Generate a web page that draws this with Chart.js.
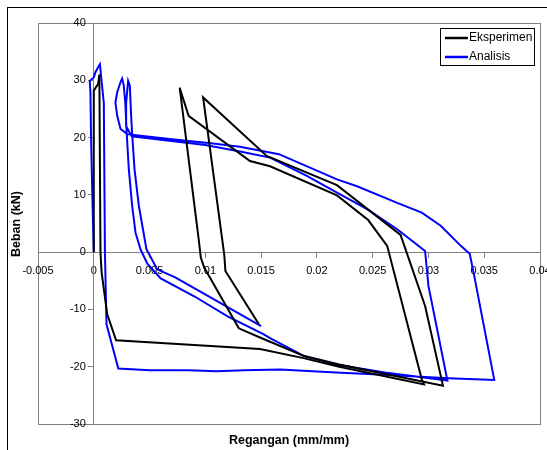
<!DOCTYPE html>
<html>
<head>
<meta charset="utf-8">
<script src="https://cdn.jsdelivr.net/npm/chart.js@4.4.0/dist/chart.umd.min.js"></script>
<style>
  html, body { margin: 0; padding: 0; background: #fff; }
  #wrap { width: 547px; height: 450px; }
</style>
</head>
<body>
<div id="wrap"><canvas id="chart" width="547" height="450"></canvas></div>
<script>
// Tick values / labels
const xTicks = [-0.005, 0, 0.005, 0.01, 0.015, 0.02, 0.025, 0.03, 0.035, 0.04];
const xTickLabels = ['-0.005', '0', '0.005', '0.01', '0.015', '0.02', '0.025', '0.03', '0.035', '0.04'];
const yTicks = [-30, -20, -10, 0, 10, 20, 30, 40];

// Eksperimen (black)
const eksStrain = [0, 0, 0.0004, 0.0005, 0.0006, 0.0007, 0.0012, 0.0020, 0.0149, 0.0188, 0.0220, 0.0296,
  0.0294, 0.0263, 0.0246, 0.0218, 0.0158, 0.0140, 0.0085, 0.0077,
  0.0094, 0.0096, 0.0099, 0.0130, 0.0149, 0.0188, 0.0220, 0.0313,
  0.0297, 0.0275, 0.0218, 0.0155, 0.0098,
  0.0117, 0.0118, 0.0148];
const eksLoad = [0, 28.2, 29.4, 31.0, 0, -3.5, -10.8, -15.4, -16.9, -18.5, -20.0, -23.1,
  -22.2, 1.1, 5.6, 9.9, 15.0, 15.9, 23.8, 28.7,
  2.3, -1.0, -2.7, -13.3, -14.9, -18.1, -19.6, -23.3,
  -9.4, 3.0, 11.7, 16.8, 27.0,
  -0.5, -3.3, -12.6];

// Analisis (blue)
const anaStrain = [0, -0.00015, -0.00024, -0.0003, -0.00036, 0, 0.00015, 0.00045, 0.00055,
  0.0009, 0.0010, 0.00114, 0.0022, 0.0050, 0.0085, 0.0110, 0.0135, 0.0167, 0.0217, 0.0260, 0.0318, 0.0359,
  0.0341, 0.0337, 0.0329, 0.0311, 0.0294, 0.0272, 0.0236, 0.0218, 0.0166, 0.0131, 0.0105, 0.0070, 0.0042, 0.0030,
  0.0024, 0.0021, 0.00194, 0.0021, 0.0024, 0.00254,
  0.00269, 0.00284, 0.00293, 0.00314, 0.00344, 0.00374, 0.00419, 0.0048, 0.0060, 0.0090, 0.0120, 0.0152, 0.0158,
  0.0189, 0.0217, 0.0261, 0.0317,
  0.0300, 0.0297, 0.0272, 0.0245, 0.0218, 0.0191, 0.0158, 0.0130, 0.0100, 0.0060, 0.0034,
  0.0029, 0.0029, 0.00308,
  0.00323, 0.00335, 0.00344, 0.00365, 0.00404, 0.00472, 0.00568, 0.0073, 0.0090, 0.0120, 0.0150];
const anaLoad = [0, 11.6, 19.7, 27.9, 29.9, 30.5, 31.4, 32.5, 32.8,
  26, 0, -12.6, -20.3, -20.6, -20.6, -20.8, -20.6, -20.5, -21.0, -21.4, -22.0, -22.3,
  -4.1, -0.3, 1.1, 4.6, 6.9, 8.6, 11.5, 12.7, 17.1, 18.4, 19.0, 19.7, 20.3, 20.6,
  21.5, 23.8, 26.1, 27.9, 29.7, 30.3,
  29.1, 25.6, 21.5, 14.5, 8.1, 3.4, 0.5, -2.0, -4.6, -7.7, -11.2, -14.3, -15.0,
  -18.2, -19.6, -21.0, -22.4,
  -5.9, 0.2, 4.0, 7.5, 10.4, 13.3, 16.5, 17.6, 18.7, 19.6, 20.2,
  22.0, 26.0, 29.9,
  29.1, 23.8, 20.6, 14.5, 8.1, 0.5, -3.0, -4.4, -6.3, -9.6, -12.9];

const toPoints = (xs, ys) => xs.map((x, i) => ({ x: x, y: ys[i] }));

const FONT = '"Liberation Sans", Arial, sans-serif';

// frame, axis titles and legend box like the Excel original
const decor = {
  id: 'decor',
  beforeDraw(chart) {
    const { ctx, chartArea: a } = chart;
    ctx.save();
    ctx.fillStyle = '#fff';
    ctx.fillRect(0, 0, chart.width, chart.height);
    ctx.strokeStyle = '#000';
    ctx.lineWidth = 1;
    ctx.strokeRect(7.5, 7.5, chart.width + 10, chart.height + 10);
    ctx.strokeStyle = '#808080';
    ctx.strokeRect(Math.round(a.left) + 0.5, Math.round(a.top) + 0.5, Math.round(a.width), Math.round(a.height));
    ctx.restore();
  },
  afterDraw(chart) {
    const { ctx, chartArea: a } = chart;
    ctx.save();
    ctx.fillStyle = '#000';
    ctx.font = 'bold 12.5px ' + FONT;
    ctx.textAlign = 'center';
    ctx.textBaseline = 'middle';
    ctx.fillText('Regangan (mm/mm)', (a.left + a.right) / 2, 441);
    ctx.translate(17, 224);
    ctx.rotate(-Math.PI / 2);
    ctx.fillText('Beban (kN)', 0, 0);
    ctx.restore();

    // legend
    ctx.save();
    const lx = 440.5, ly = 28.5, lw = 94, lh = 37;
    ctx.fillStyle = '#fff';
    ctx.fillRect(lx, ly, lw, lh);
    ctx.strokeStyle = '#000';
    ctx.lineWidth = 1;
    ctx.strokeRect(lx, ly, lw, lh);
    ctx.font = '12px ' + FONT;
    ctx.textAlign = 'left';
    ctx.textBaseline = 'middle';
    chart.data.datasets.forEach((ds, i) => {
      const y = 38 + i * 19;
      ctx.strokeStyle = ds.borderColor;
      ctx.lineWidth = 2.5;
      ctx.beginPath();
      ctx.moveTo(445, y);
      ctx.lineTo(468, y);
      ctx.stroke();
      ctx.fillStyle = '#000';
      ctx.fillText(ds.label, 469, y);
    });
    ctx.restore();
  }
};

const noPad = s => { s.paddingLeft = 0; s.paddingRight = 0; s.paddingTop = 0; s.paddingBottom = 0; };

// y axis sits at x = 0; Chart.js puts its labels right on the line there, so nudge them left
const shiftYLabels = scale => {
  if (scale._shiftPatched) return;
  const compute = scale._computeLabelItems;
  scale._computeLabelItems = function (area) {
    const items = compute.call(this, area);
    items.forEach(it => {
      if (it.options && it.options.translation) it.options.translation[0] -= 8;
    });
    return items;
  };
  scale._shiftPatched = true;
};

new Chart(document.getElementById('chart'), {
  type: 'scatter',
  data: {
    datasets: [
      {
        label: 'Eksperimen',
        data: toPoints(eksStrain, eksLoad),
        showLine: true,
        borderColor: '#000000',
        borderWidth: 2,
        pointRadius: 0,
        tension: 0
      },
      {
        label: 'Analisis',
        data: toPoints(anaStrain, anaLoad),
        showLine: true,
        borderColor: '#0000ff',
        borderWidth: 2,
        pointRadius: 0,
        tension: 0
      }
    ]
  },
  options: {
    responsive: false,
    animation: false,
    layout: { padding: { left: 38, top: 23, right: 7, bottom: 26 } },
    plugins: {
      legend: { display: false },
      tooltip: { enabled: false }
    },
    scales: {
      x: {
        type: 'linear',
        min: -0.005,
        max: 0.04,
        position: { y: 0 },
        afterBuildTicks: axis => { axis.ticks = xTicks.map(v => ({ value: v })); },
        afterFit: noPad,
        ticks: {
          callback: (v, i) => xTickLabels[i],
          color: '#000',
          font: { family: FONT, size: 11 },
          maxRotation: 0,
          autoSkip: false,
          padding: 7
        },
        grid: { drawOnChartArea: false, tickLength: 5, color: '#808080' },
        border: { color: '#808080', width: 1 }
      },
      y: {
        type: 'linear',
        min: -30,
        max: 40,
        position: { x: 0 },
        afterBuildTicks: axis => { axis.ticks = yTicks.map(v => ({ value: v })); },
        afterFit: noPad,
        afterUpdate: shiftYLabels,
        ticks: {
          callback: v => String(v),
          color: '#000',
          font: { family: FONT, size: 11 },
          autoSkip: false,
          padding: 3
        },
        grid: { drawOnChartArea: false, tickLength: 5, color: '#808080' },
        border: { color: '#808080', width: 1 }
      }
    }
  },
  plugins: [decor]
});
</script>
</body>
</html>
